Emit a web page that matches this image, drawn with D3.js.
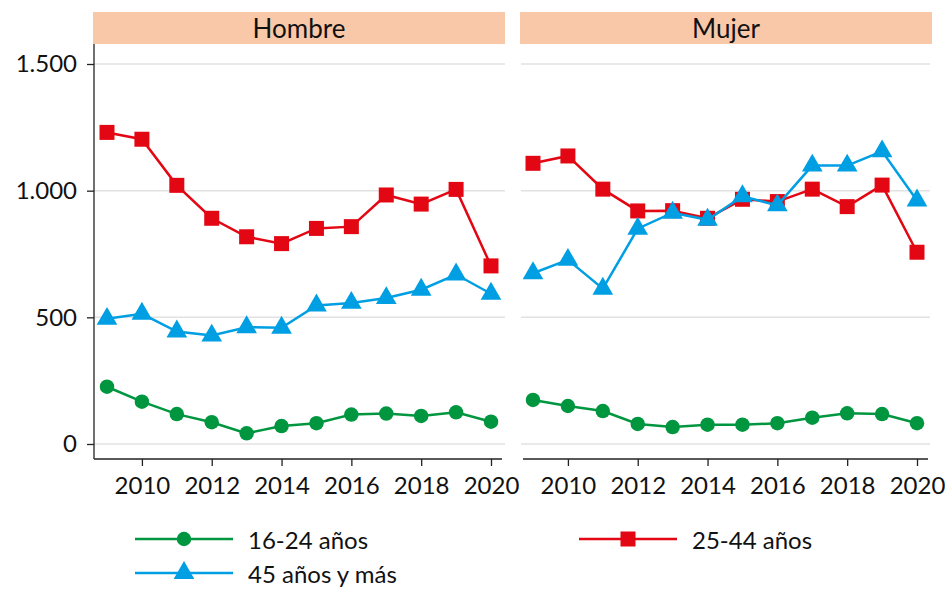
<!DOCTYPE html>
<html>
<head>
<meta charset="utf-8">
<script src="https://cdn.jsdelivr.net/npm/d3@7"></script>
<style>
  body { margin: 0; background: #fff; }
  text { font-family: Lato, "Open Sans", sans-serif; fill: #111; }
</style>
</head>
<body>
<div class="chart"></div>
<script>
var years = [2009, 2010, 2011, 2012, 2013, 2014, 2015, 2016, 2017, 2018, 2019, 2020];
var yTicks = [0, 500, 1000, 1500];
var xTicks = [2010, 2012, 2014, 2016, 2018, 2020];
var panels = ['Hombre', 'Mujer'];
var seriesNames = ['16-24 años', '25-44 años', '45 años y más'];

var hombre1624 = [226, 167, 118, 86, 42, 71, 82, 116, 120, 111, 125, 88];
var hombre2544 = [1230, 1203, 1021, 891, 818, 791, 851, 858, 983, 947, 1005, 703];
var hombre45 = [494, 514, 444, 428, 461, 459, 547, 557, 576, 609, 669, 593];

var mujer1624 = [174, 150, 130, 79, 67, 76, 76, 82, 104, 121, 118, 82];
var mujer2544 = [1108, 1137, 1006, 920, 921, 891, 966, 957, 1006, 937, 1022, 757];
var mujer45 = [674, 727, 613, 850, 913, 885, 978, 942, 1099, 1099, 1155, 961];

function init() {
  var width = 945,
      height = 589,
      colors = ['#009640', '#e30613', '#009fe3'],
      symbols = [d3.symbolCircle, d3.symbolSquare, d3.symbolTriangle],
      sizes = [165, 225, 185],
      fontSize = 24;

  var svg = d3.select('.chart')
    .append('svg')
      .attr('width', width)
      .attr('height', height);

  var y = d3.scaleLinear().domain([0, 1500]).range([444, 64]);

  var panelData = [
    [hombre1624, hombre2544, hombre45],
    [mujer1624, mujer2544, mujer45]
  ];

  // panel frames: plot area left/right, header left/right
  var frames = [
    { left: 94, right: 505, x0: 107, x1: 491, axisL: 94, axisR: 502, headL: 93, headR: 505 },
    { left: 521, right: 930, x0: 533, x1: 917, axisL: 523, axisR: 928, headL: 520, headR: 932 }
  ];

  panels.forEach(function(name, p) {
    var f = frames[p];
    var x = d3.scaleLinear().domain([2009, 2020]).range([f.x0, f.x1]);
    var g = svg.append('g').attr('class', 'panel');

    g.append('rect')
        .attr('x', f.headL)
        .attr('y', 12)
        .attr('width', f.headR - f.headL)
        .attr('height', 32)
        .style('fill', '#f9c8a8');
    g.append('text')
        .attr('x', (f.headL + f.headR) / 2)
        .attr('y', 28)
        .attr('text-anchor', 'middle')
        .attr('dominant-baseline', 'central')
        .style('font-size', '26px')
        .text(name);

    g.selectAll('line.grid').data(yTicks).enter()
      .append('line')
        .attr('class', 'grid')
        .attr('x1', f.left)
        .attr('x2', f.right)
        .attr('y1', function(d) { return y(d); })
        .attr('y2', function(d) { return y(d); })
        .style('stroke', '#e2e2e2')
        .style('stroke-width', 1.5);

    var xAxis = g.append('g')
        .attr('transform', 'translate(0,459)')
        .call(d3.axisBottom(x).tickValues(xTicks).tickFormat(d3.format('d')).tickSize(7).tickPadding(11));
    xAxis.select('.domain').remove();
    xAxis.selectAll('.tick line').style('stroke', '#222').style('stroke-width', 1.3);
    xAxis.selectAll('.tick text')
        .style('font-size', fontSize + 'px')
        .style('font-family', 'Lato, sans-serif')
        .style('fill', '#111');
    g.append('line')
        .attr('x1', f.axisL).attr('x2', f.axisR)
        .attr('y1', 459).attr('y2', 459)
        .style('stroke', '#222').style('stroke-width', 1.3);

    if (p === 0) {
      var yAxis = g.append('g')
          .attr('transform', 'translate(' + f.left + ',0)')
          .call(d3.axisLeft(y).tickValues(yTicks).tickFormat(function(d) { return d3.format(',')(d).replace(',', '.'); }).tickSize(7).tickPadding(10));
      yAxis.select('.domain').remove();
      yAxis.selectAll('.tick line').style('stroke', '#222').style('stroke-width', 1.3);
      yAxis.selectAll('.tick text')
          .style('font-size', fontSize + 'px')
          .style('font-family', 'Lato, sans-serif')
          .style('fill', '#111');
      g.append('line')
          .attr('x1', f.left).attr('x2', f.left)
          .attr('y1', 44).attr('y2', 459)
          .style('stroke', '#222').style('stroke-width', 1.3);
    }

    var line = d3.line()
      .x(function(d, i) { return x(years[i]); })
      .y(function(d) { return y(d); });

    panelData[p].forEach(function(values, s) {
      g.append('path')
          .datum(values)
          .attr('d', line)
          .style('fill', 'none')
          .style('stroke', colors[s])
          .style('stroke-width', 2.5);
      g.selectAll('path.m' + s).data(values).enter()
        .append('path')
          .attr('class', 'm' + s)
          .attr('d', d3.symbol().type(symbols[s]).size(sizes[s]))
          .attr('transform', function(d, i) { return 'translate(' + x(years[i]) + ',' + y(d) + ')'; })
          .style('fill', colors[s]);
    });
  });

  // legend
  var legendPos = [
    { x: 135, y: 539 },
    { x: 579, y: 539 },
    { x: 135, y: 573 }
  ];
  var legend = svg.selectAll('g.legend').data(seriesNames).enter()
    .append('g')
      .attr('class', 'legend')
      .attr('transform', function(d, i) { return 'translate(' + legendPos[i].x + ',' + legendPos[i].y + ')'; });
  legend.append('line')
      .attr('x1', 0).attr('x2', 98)
      .style('stroke', function(d, i) { return colors[i]; })
      .style('stroke-width', 2.5);
  legend.append('path')
      .attr('d', function(d, i) { return d3.symbol().type(symbols[i]).size(sizes[i])(); })
      .attr('transform', 'translate(49,0)')
      .style('fill', function(d, i) { return colors[i]; });
  legend.append('text')
      .attr('x', 113)
      .attr('dominant-baseline', 'central')
      .style('font-size', fontSize + 'px')
      .text(function(d) { return d; });
}

d3.select(window).on('load', init);
</script>
</body>
</html>
